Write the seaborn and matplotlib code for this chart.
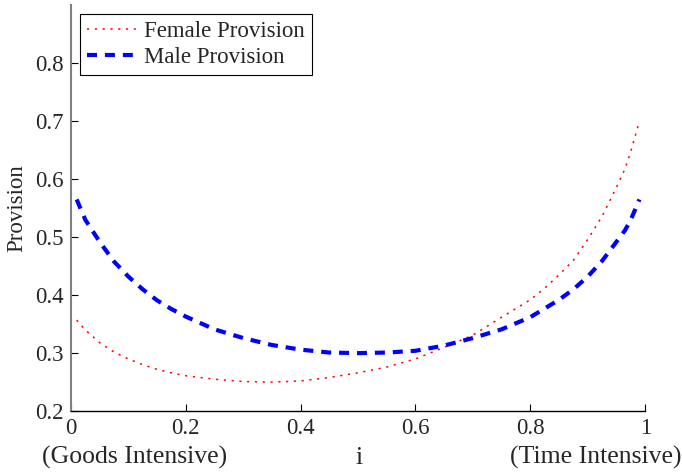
import numpy as np
import matplotlib
matplotlib.use('Agg')
import matplotlib.pyplot as plt
import seaborn as sns

# valores
share_i = [0.01, 0.025, 0.05, 0.075, 0.10, 0.125, 0.15, 0.175, 0.20, 0.25, 0.30, 0.35,
           0.40, 0.45, 0.50, 0.55, 0.60, 0.65, 0.70, 0.75, 0.80, 0.825, 0.85, 0.875,
           0.90, 0.925, 0.95, 0.965, 0.975, 0.99]
female_provision = [0.357, 0.340, 0.318, 0.302, 0.290, 0.280, 0.272, 0.266, 0.261, 0.255,
                    0.251, 0.250, 0.252, 0.258, 0.266, 0.276, 0.290, 0.310, 0.331, 0.362,
                    0.392, 0.412, 0.435, 0.460, 0.496, 0.536, 0.586, 0.618, 0.648, 0.700]
male_provision = [0.565, 0.530, 0.492, 0.458, 0.432, 0.410, 0.391, 0.376, 0.363, 0.341,
                  0.326, 0.314, 0.306, 0.301, 0.300, 0.301, 0.304, 0.313, 0.326, 0.341,
                  0.362, 0.377, 0.392, 0.410, 0.432, 0.459, 0.492, 0.512, 0.530, 0.565]
x_ticks = [0, 0.2, 0.4, 0.6, 0.8, 1]
x_tick_labels = ['0', '0.2', '0.4', '0.6', '0.8', '1']
y_ticks = [0.2, 0.3, 0.4, 0.5, 0.6, 0.7, 0.8]
y_tick_labels = ['0.2', '0.3', '0.4', '0.5', '0.6', '0.7', '0.8']

sns.set_style('ticks')
plt.rcParams['font.family'] = ['Liberation Serif', 'DejaVu Serif']
plt.rcParams['font.size'] = 16.5

fig = plt.figure(figsize=(6.82, 4.72), dpi=100)
ax = fig.add_axes([0.104, 0.129, 0.842, 0.860])

sns.lineplot(x=share_i, y=female_provision, ax=ax, color='red', linestyle=':',
             linewidth=1.1, label='Female Provision')
sns.lineplot(x=share_i, y=male_provision, ax=ax, color='blue', linestyle='--',
             linewidth=3.0, label='Male Provision')
ax.lines[0].set_dashes((1.4, 3.7))
ax.lines[1].set_dashes((2.4, 1.9))

ax.set_xlim(0, 1)
ax.set_ylim(0.2, 0.9)
ax.set_xticks(x_ticks)
ax.set_xticklabels(x_tick_labels, fontsize=16.5)
ax.set_yticks(y_ticks)
ax.set_yticklabels(y_tick_labels, fontsize=16.5)
ax.tick_params(direction='in', length=5, width=0.8, color='black', pad=5)

ax.spines['top'].set_visible(False)
ax.spines['right'].set_visible(False)
ax.spines['left'].set_color('#808080')
ax.spines['left'].set_linewidth(1.5)
ax.spines['bottom'].set_color('black')
ax.spines['bottom'].set_linewidth(1.0)

ax.set_ylabel('Provision', fontsize=16.5, labelpad=6)
ax.set_xlabel('')
fig.text(0.526, 0.030, 'i', ha='center', va='center', fontsize=18.5)
fig.text(0.061, 0.030, '(Goods Intensive)', ha='left', va='center', fontsize=18.5)
fig.text(0.999, 0.030, '(Time Intensive)', ha='right', va='center', fontsize=18.5)

leg = ax.legend(loc='upper left', fancybox=False, edgecolor='black', framealpha=1,
                borderaxespad=0.4, handlelength=2.2, handletextpad=0.3,
                borderpad=0.3, labelspacing=0.2, fontsize=16.5)
leg.get_frame().set_linewidth(0.8)
# mesmos traços na legenda
leg.get_lines()[0].set_dashes((1.4, 3.7))
leg.get_lines()[1].set_dashes((2.4, 1.9))

fig.savefig('out.png', dpi=100)
